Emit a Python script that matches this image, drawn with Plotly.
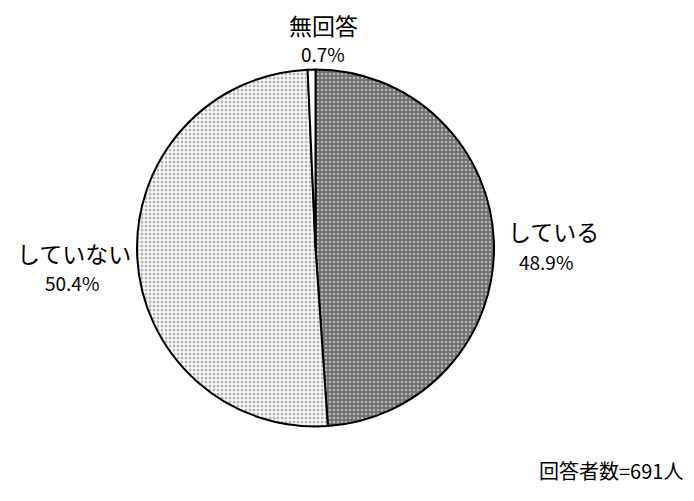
import plotly.graph_objects as go

labels = ["している", "していない", "無回答"]
values = [48.9, 50.4, 0.7]
pct_text = ["48.9%", "50.4%", "0.7%"]
note = "回答者数=691人"

W, H = 694, 501
FONT = "Noto Sans CJK JP"

fig = go.Figure()
fig.add_trace(go.Pie(
    labels=labels,
    values=values,
    sort=False,
    direction="clockwise",
    rotation=0,
    textinfo="none",
    hoverinfo="label+percent",
    showlegend=False,
    marker=dict(
        colors=["#808080", "#ffffff", "#ffffff"],
        line=dict(color="black", width=2),
        pattern=dict(
            shape=[".", ".", ""],
            fgcolor=["#ffffff", "#6a6a6a", "#ffffff"],
            bgcolor=["#707070", "#ffffff", "#ffffff"],
            size=[4, 4, 4],
            solidity=[0.3, 0.45, 0.3],
            fillmode="overlay",
        ),
    ),
    domain=dict(x=[129 / W, 486 / W], y=[1 - 419 / H, 1 - 61 / H]),
))

# label positions (pixel centres): name line, percent line
pos = [((545, 223), (538, 253)), ((66, 245), (64, 274)), ((315, 17), (315, 46))]
for name, pct, ((x1, y1), (x2, y2)) in zip(labels, pct_text, pos):
    fig.add_annotation(
        x=x1 / W, y=1 - y1 / H, xref="paper", yref="paper",
        text=name, showarrow=False,
        font=dict(family=FONT, size=23, color="black"),
        xanchor="center", yanchor="middle",
    )
    fig.add_annotation(
        x=x2 / W, y=1 - y2 / H, xref="paper", yref="paper",
        text=pct, showarrow=False,
        font=dict(family=FONT, size=19, color="black"),
        xanchor="center", yanchor="middle",
    )

fig.add_annotation(
    x=677 / W, y=1 - 462 / H, xref="paper", yref="paper",
    text=note, showarrow=False, xanchor="right", yanchor="middle",
    font=dict(family=FONT, size=20, color="black"),
)

fig.update_layout(
    width=W, height=H,
    margin=dict(l=0, r=0, t=0, b=0),
    paper_bgcolor="white", plot_bgcolor="white",
)
fig.write_html("out.html")
